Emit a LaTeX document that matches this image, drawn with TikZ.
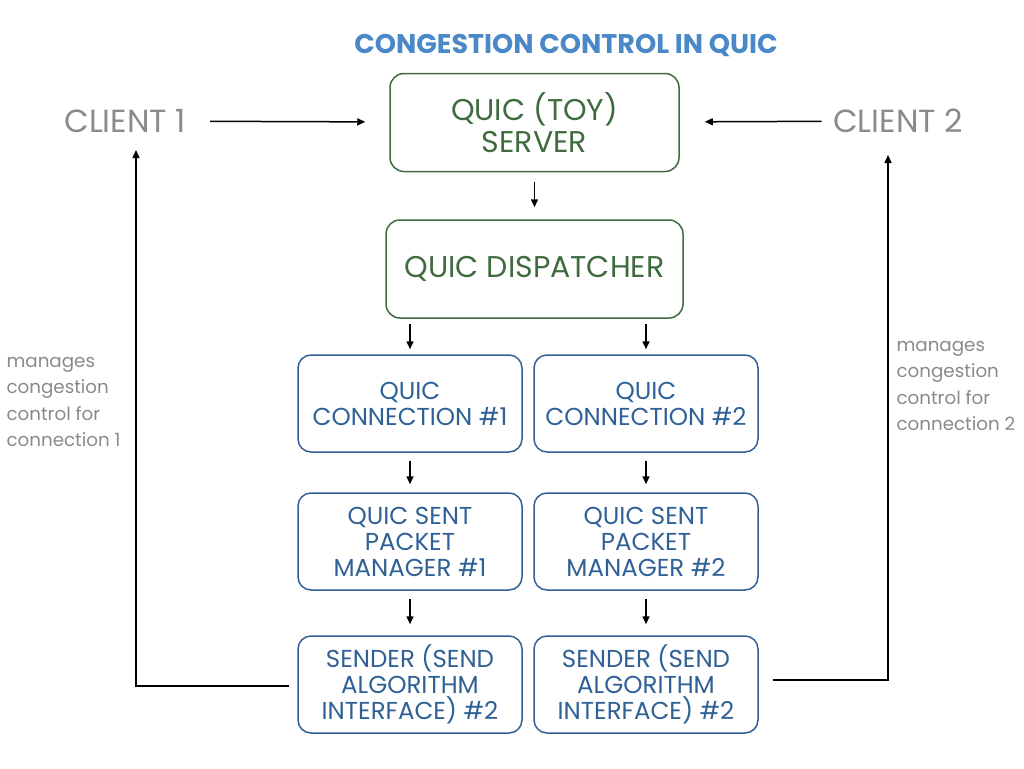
\documentclass[tikz,border=0pt]{standalone}
\usepackage{fontspec}
\setmainfont{Poppins}
\usetikzlibrary{
	positioning,
	arrows.meta
}
\definecolor{titleblue}{HTML}{4A88C8}
\definecolor{servgreen}{HTML}{3F6B3F}
\definecolor{connblue}{HTML}{2F6096}
\definecolor{clientgray}{HTML}{8A8A8A}

\begin{document}
\begin{tikzpicture}[x=1pt,y=-1pt,
 greenbox/.style = {draw=servgreen,line width=1.5pt,rounded corners=14pt,text=servgreen,align=center,
   minimum height=98pt,font=\fontsize{30}{32}\selectfont},
 bluebox/.style = {draw=connblue,line width=1.5pt,rounded corners=13pt,text=connblue,align=center,
   minimum width=224pt,minimum height=97pt,font=\fontsize{24.5}{26}\selectfont},
 client/.style = {text=clientgray,font=\fontsize{32}{34}\selectfont},
 note/.style = {text=clientgray,align=left,anchor=west,font=\fontsize{18.3}{26.5}\selectfont},
 arr/.style = {line width=1.5pt,-{Triangle[length=8pt,width=7pt]}},
]
\useasboundingbox (0,0) rectangle (1024,768);

% title
\node (title) at (566,46) {\fontsize{27}{30}\selectfont\bfseries\color{titleblue}CONGESTION CONTROL IN QUIC};

% server side
\node (server) [greenbox,minimum width=289pt] at (534.5,122.5) {QUIC (TOY)\\SERVER};
\node (disp)   [greenbox,minimum width=297pt] at (534.5,269)   {QUIC DISPATCHER};

\node (client1) [client] at (125,121) {CLIENT 1};
\node (client2) [client] at (898,121) {CLIENT 2};

% connection 1 / 2
\node (conn1) [bluebox] at (410,403.5) {QUIC\\CONNECTION \#1};
\node (conn2) [bluebox] at (646,403.5) {QUIC\\CONNECTION \#2};
\node (spm1)  [bluebox] at (410,541.5) {QUIC SENT\\PACKET\\MANAGER \#1};
\node (spm2)  [bluebox] at (646,541.5) {QUIC SENT\\PACKET\\MANAGER \#2};
\node (snd1)  [bluebox] at (410,684.5) {SENDER (SEND\\ALGORITHM\\INTERFACE) \#2};
\node (snd2)  [bluebox] at (646,684.5) {SENDER (SEND\\ALGORITHM\\INTERFACE) \#2};

\node (note1) [note] at (3,402) {manages\\congestion\\control for\\connection 1};
\node (note2) [note] at (893,386) {manages\\congestion\\control for\\connection 2};

\coordinate (c1in) at (136,150);
\coordinate (c2in) at (888,155);

\draw[arr,shorten <=21pt,shorten >=24pt] (client1) -- (server);
\draw[arr,shorten <=8pt,shorten >=25pt] (client2) -- (server);
\draw[arr,shorten <=10pt,shorten >=12pt] (server) -- (disp);
\draw[arr,shorten <=5pt,shorten >=5pt] (disp.south -| conn1) -- (conn1);
\draw[arr,shorten <=5pt,shorten >=5pt] (disp.south -| conn2) -- (conn2);
\draw[arr,shorten <=8pt,shorten >=8pt] (conn1) -- (spm1);
\draw[arr,shorten <=8pt,shorten >=8pt] (conn2) -- (spm2);
\draw[arr,shorten <=8pt,shorten >=11pt] (spm1) -- (snd1);
\draw[arr,shorten <=8pt,shorten >=11pt] (spm2) -- (snd2);

\draw[arr,shorten <=8pt] ([yshift=-1.5pt]snd1.west) -| (c1in);
\draw[arr,shorten <=14pt] ([yshift=4.5pt]snd2.east) -| (c2in);
\end{tikzpicture}
\end{document}
